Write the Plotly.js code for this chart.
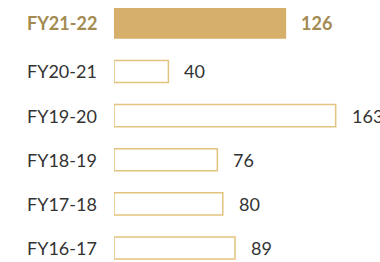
<!DOCTYPE html>
<html><head><meta charset="utf-8">
<script src="https://cdn.plot.ly/plotly-3.0.1.min.js"></script>
<style>html,body{margin:0;padding:0;background:#fff}#chart{width:380px;height:262px}</style>
</head><body><div id="chart"></div>
<script>
const categories = ["FY21-22","FY20-21","FY19-20","FY18-19","FY17-18","FY16-17"];
const values = [126, 40, 163, 76, 80, 89];
const highlight = "FY21-22";

const gold = "#d6b06a";
const goldLine = "#e2c37f";
const goldText = "#a38b52";
const grey = "#333333";

const isHi = categories.map(c => c === highlight);
const widths = isHi.map(h => h ? 0.66 : 0.5);
const offsets = isHi.map((h, i) => h ? -widths[i]/2 - 0.09 : -widths[i]/2);

const trace = {
  type: "bar", orientation: "h",
  y: categories, x: values,
  width: widths, offset: offsets,
  marker: {
    color: isHi.map(h => h ? gold : "#ffffff"),
    line: {color: isHi.map(h => h ? gold : goldLine), width: 1.5}
  },
  hoverinfo: "skip"
};

const annotations = [];
categories.forEach((c, i) => {
  const font = {family: "Lato, 'Noto Sans', sans-serif", size: 18, color: isHi[i] ? goldText : grey};
  annotations.push({x: 0, y: c, xref: "x", yref: "y", text: isHi[i] ? "<b>" + c + "</b>" : c,
    showarrow: false, xanchor: "left", yanchor: "middle", xshift: -89, yshift: isHi[i] ? 4 : 0, font: font});
  annotations.push({x: values[i], y: c, xref: "x", yref: "y", text: isHi[i] ? "<b>" + values[i] + "</b>" : String(values[i]),
    showarrow: false, xanchor: "left", yanchor: "middle", xshift: 14, yshift: isHi[i] ? 4 : 0, font: font});
});

const layout = {
  width: 380, height: 262,
  margin: {l: 114, r: 0, t: 0, b: 0, pad: 0},
  paper_bgcolor: "#ffffff", plot_bgcolor: "#ffffff",
  showlegend: false,
  xaxis: {range: [0, 195.6], visible: false, fixedrange: true},
  yaxis: {type: "category", categoryorder: "array", categoryarray: categories,
          range: [5.318, -0.62], showticklabels: false, showgrid: false, zeroline: false, showline: false, ticks: ""},
  annotations: annotations
};

Plotly.newPlot("chart", [trace], layout, {staticPlot: true, displayModeBar: false});
</script>
</body></html>
